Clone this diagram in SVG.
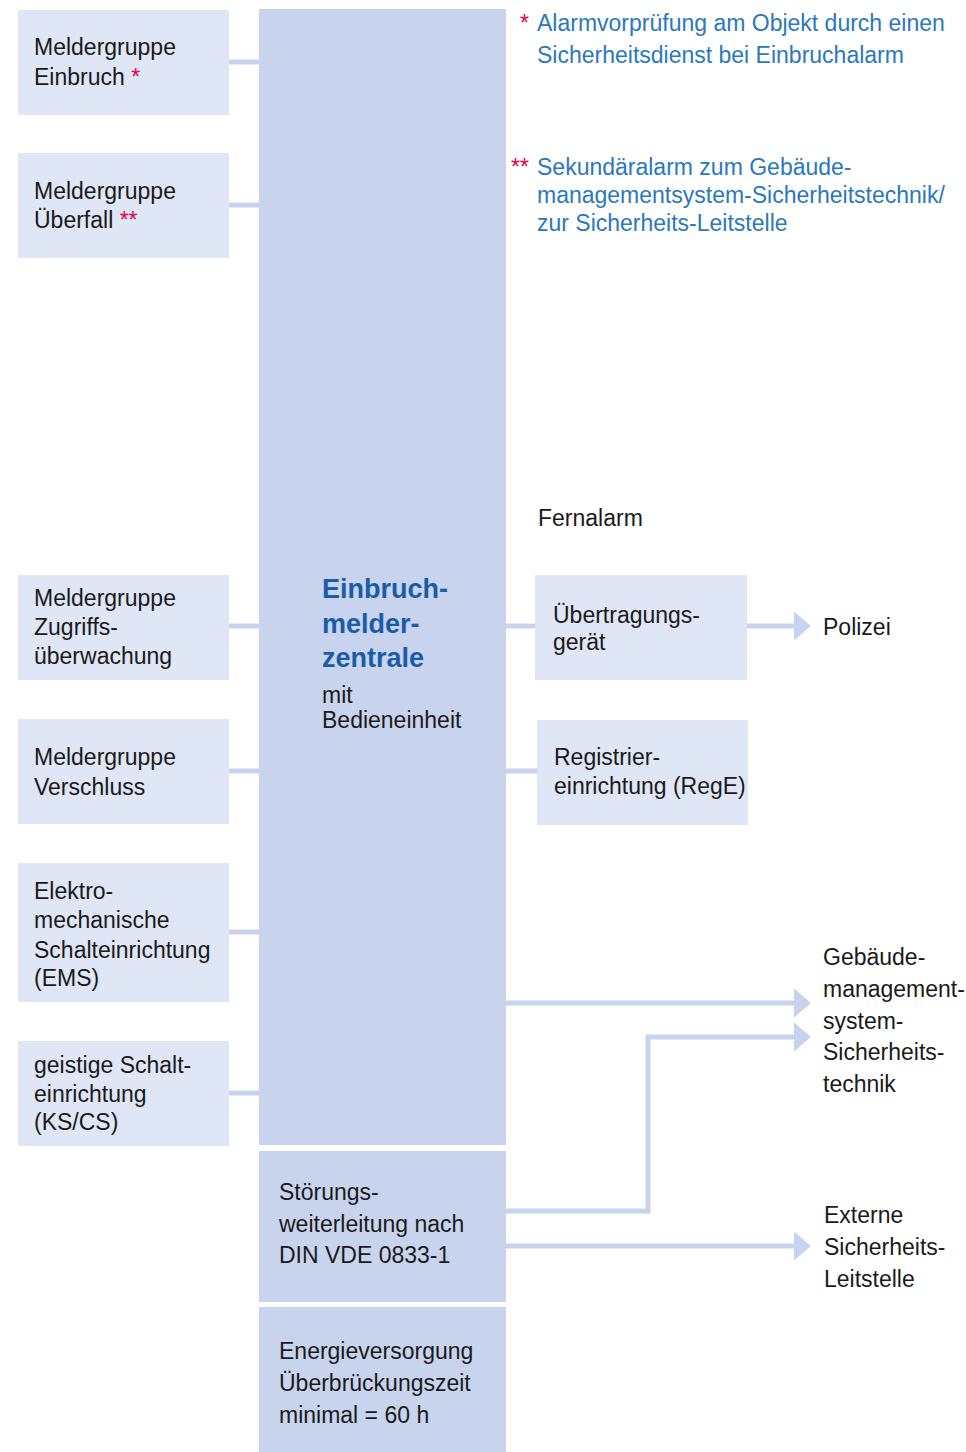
<svg xmlns="http://www.w3.org/2000/svg" width="966" height="1452" viewBox="0 0 966 1452">
<style>
text{font-family:"Liberation Sans",Arial,sans-serif;font-size:23px;fill:#1a1a1a}
.box{fill:#dfe6f5}
.main{fill:#c8d4ed}
.ln{stroke:#c8d4ed;stroke-width:5;fill:none}
.ah{fill:#c8d4ed}
.note{fill:#2a78bd}
.red{fill:#e2004f}
.title{font-weight:bold;font-size:27px;fill:#1a5ca6}
</style>
<g id="connectors">
<line class="ln" x1="229" y1="62" x2="260" y2="62"/>
<line class="ln" x1="229" y1="205" x2="260" y2="205"/>
<line class="ln" x1="229" y1="626" x2="260" y2="626"/>
<line class="ln" x1="229" y1="771" x2="260" y2="771"/>
<line class="ln" x1="229" y1="932" x2="260" y2="932"/>
<line class="ln" x1="229" y1="1093" x2="260" y2="1093"/>
<line class="ln" x1="505" y1="626" x2="536" y2="626"/>
<line class="ln" x1="505" y1="771" x2="538" y2="771"/>
<line class="ln" x1="746" y1="626" x2="796" y2="626"/>
<polygon class="ah" points="794,611.5 811,626 794,640.5"/>
<line class="ln" x1="505" y1="1003" x2="796" y2="1003"/>
<polygon class="ah" points="794,988.5 811,1003 794,1017.5"/>
<polyline class="ln" points="505,1211 648,1211 648,1037 796,1037"/>
<polygon class="ah" points="794,1022.5 811,1037 794,1051.5"/>
<line class="ln" x1="505" y1="1246" x2="796" y2="1246"/>
<polygon class="ah" points="794,1231.5 811,1246 794,1260.5"/>
</g>
<g id="main">
<rect class="main" x="259" y="9" width="247" height="1136"/>
<text class="title" x="322" y="598">Einbruch-</text>
<text class="title" x="322" y="633">melder-</text>
<text class="title" x="322" y="667">zentrale</text>
<text x="322" y="703">mit</text>
<text x="322" y="728">Bedieneinheit</text>
</g>
<g id="n-einbruch">
<rect class="box" x="18" y="10" width="211" height="105"/>
<text x="34" y="55">Meldergruppe</text>
<text x="34" y="85">Einbruch <tspan class="red">*</tspan></text>
</g>
<g id="n-ueberfall">
<rect class="box" x="18" y="153" width="211" height="105"/>
<text x="34" y="199">Meldergruppe</text>
<text x="34" y="228">Überfall <tspan class="red">**</tspan></text>
</g>
<g id="n-zugriff">
<rect class="box" x="18" y="575" width="211" height="105"/>
<text x="34" y="606">Meldergruppe</text>
<text x="34" y="635">Zugriffs-</text>
<text x="34" y="664">überwachung</text>
</g>
<g id="n-verschluss">
<rect class="box" x="18" y="719" width="211" height="105"/>
<text x="34" y="765">Meldergruppe</text>
<text x="34" y="795">Verschluss</text>
</g>
<g id="n-ems">
<rect class="box" x="18" y="863" width="211" height="139"/>
<text x="34" y="899">Elektro-</text>
<text x="34" y="928">mechanische</text>
<text x="34" y="958">Schalteinrichtung</text>
<text x="34" y="986">(EMS)</text>
</g>
<g id="n-kscs">
<rect class="box" x="18" y="1041" width="211" height="105"/>
<text x="34" y="1073">geistige Schalt-</text>
<text x="34" y="1102">einrichtung</text>
<text x="34" y="1130">(KS/CS)</text>
</g>
<g id="n-stoerung">
<rect class="main" x="259" y="1151" width="247" height="151"/>
<text x="279" y="1200">Störungs-</text>
<text x="279" y="1232">weiterleitung nach</text>
<text x="279" y="1263">DIN VDE 0833-1</text>
</g>
<g id="n-energie">
<rect class="main" x="259" y="1307" width="247" height="145"/>
<text x="279" y="1359">Energieversorgung</text>
<text x="279" y="1391">Überbrückungszeit</text>
<text x="279" y="1423">minimal = 60 h</text>
</g>
<g id="n-uebertragung">
<rect class="box" x="535" y="575" width="212" height="105"/>
<text x="553" y="623">Übertragungs-</text>
<text x="553" y="650">gerät</text>
</g>
<g id="n-rege">
<rect class="box" x="537" y="720" width="211" height="105"/>
<text x="554" y="765">Registrier-</text>
<text x="554" y="794">einrichtung (RegE)</text>
</g>
<g id="labels">
<text x="538" y="526">Fernalarm</text>
<text x="823" y="635">Polizei</text>
<text x="823" y="965">Gebäude-</text>
<text x="823" y="997">management-</text>
<text x="823" y="1029">system-</text>
<text x="823" y="1060">Sicherheits-</text>
<text x="823" y="1092">technik</text>
<text x="824" y="1223">Externe</text>
<text x="824" y="1255">Sicherheits-</text>
<text x="824" y="1287">Leitstelle</text>
</g>
<g id="notes">
<text class="red" x="520" y="31">*</text>
<text class="note" x="537" y="31">Alarmvorprüfung am Objekt durch einen</text>
<text class="note" x="537" y="63">Sicherheitsdienst bei Einbruchalarm</text>
<text class="red" x="511" y="175">**</text>
<text class="note" x="537" y="175">Sekundäralarm zum Gebäude-</text>
<text class="note" x="537" y="203">managementsystem-Sicherheitstechnik/</text>
<text class="note" x="537" y="231">zur Sicherheits-Leitstelle</text>
</g>
</svg>
